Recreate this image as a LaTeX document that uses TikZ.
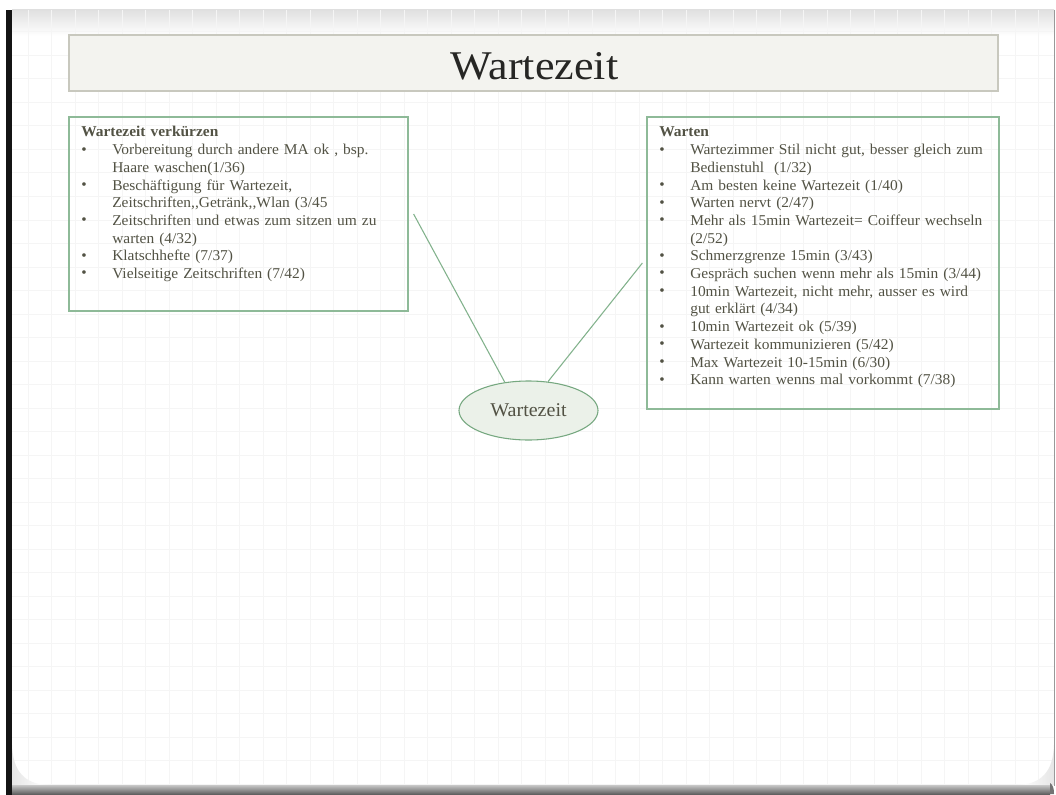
\documentclass[tikz,border=0pt]{standalone}
\usepackage{fontspec}
\setmainfont{Liberation Serif}
\newfontfamily\bodyfont[FakeStretch=1.03]{Liberation Serif}
\newfontfamily\headfont[FakeStretch=1.08]{Liberation Serif}
\usetikzlibrary{shapes.geometric}

\definecolor{txtgray}{RGB}{82,82,68}
\definecolor{titletxt}{RGB}{38,38,36}
\definecolor{boxgreen}{RGB}{142,186,152}
\definecolor{linkgreen}{RGB}{130,178,140}
\definecolor{ellfill}{RGB}{235,241,233}
\definecolor{ellline}{RGB}{118,168,128}
\definecolor{titlefill}{RGB}{243,243,239}
\definecolor{titleline}{RGB}{200,200,190}
\definecolor{gridc}{RGB}{245,245,245}

% bullet with a fixed hanging indent, and the matching plain indent
\newcommand\bul{\makebox[23.25pt][l]{\raisebox{0.5pt}{\textbullet}}}
\newcommand\ind{\hspace*{23.25pt}}

\begin{document}
\begin{tikzpicture}[x=0.75pt,y=-0.75pt,
  gridline/.style={draw=gridc, line width=0.75pt},
  titlebox/.style={draw=titleline, fill=titlefill, line width=0.9pt,
    minimum width=696.75pt, minimum height=42pt, inner sep=0pt},
  titletext/.style={font=\headfont\fontsize{30.6pt}{36pt}\selectfont,
    text=titletxt, inner sep=0pt},
  notebox/.style={draw=boxgreen, line width=0.9pt, inner sep=0pt},
  notetext/.style={font=\bodyfont\fontsize{11.25pt}{13.275pt}\selectfont,
    text=txtgray, align=left, text width=260pt, inner sep=0pt},
  hubnode/.style={ellipse, draw=ellline, fill=ellfill, line width=0.8pt,
    minimum width=104.25pt, minimum height=44.25pt, inner sep=0pt,
    font=\bodyfont\fontsize{14.6pt}{17pt}\selectfont, text=txtgray},
  link/.style={draw=linkgreen, line width=0.8pt}]

\useasboundingbox (0,0) rectangle (1056,795);
\fill[white] (0,0) rectangle (1056,795);

% slide shadows and frame
\shade[top color=black!12, bottom color=white] (12,10) rectangle (1054,36);
\foreach \gx in {28,51.5,...,1052} \draw[gridline] (\gx,10) -- (\gx,785);
\foreach \gy in {32,55.5,...,784} \draw[gridline] (12,\gy) -- (1054,\gy);
\shade[left color=black!10, right color=white]
  (12,745) .. controls (13,772) and (25,784) .. (48,785) -- (12,785) -- cycle;
\shade[left color=white, right color=black!10]
  (1054,745) .. controls (1053,772) and (1041,784) .. (1018,785) -- (1054,785) -- cycle;
\shade[top color=black!22, bottom color=black!62] (12,785) rectangle (1050,794);
\fill[black!55] (1050,783) .. controls (1053,785) and (1054,788) .. (1054,794) -- (1050,794) -- cycle;
\draw[black!40, line width=0.75pt] (1054.5,10) -- (1054.5,786);
\fill[black!92] (6,10) rectangle (12,795);

% title bar
\node[titlebox] (titlebar) at (533.5,63) {};
\node[titletext, anchor=base] (titlelabel) at (534.5,79.3) {Wartezeit};

% note boxes
\node[notebox, minimum width=254.25pt, minimum height=145.5pt] (lbox) at (238.5,214) {};
\node[notebox, minimum width=264pt, minimum height=219pt] (rbox) at (823,263) {};

\node[notetext, anchor=base west] (ltext) at (81,137) {%
  \textbf{Wartezeit verkürzen}\\
  \bul Vorbereitung durch andere MA ok , bsp.\\
  \ind Haare waschen(1/36)\\
  \bul Beschäftigung für Wartezeit,\\
  \ind Zeitschriften,{},Getränk,{},Wlan (3/45\\
  \bul Zeitschriften und etwas zum sitzen um zu\\
  \ind warten (4/32)\\
  \bul Klatschhefte (7/37)\\
  \bul Vielseitige Zeitschriften (7/42)};

\node[notetext, anchor=base west] (rtext) at (659,137) {%
  \textbf{Warten}\\
  \bul Wartezimmer Stil nicht gut, besser gleich zum\\
  \ind Bedienstuhl\ \ (1/32)\\
  \bul Am besten keine Wartezeit (1/40)\\
  \bul Warten nervt (2/47)\\
  \bul Mehr als 15min Wartezeit= Coiffeur wechseln\\
  \ind (2/52)\\
  \bul Schmerzgrenze 15min (3/43)\\
  \bul Gespräch suchen wenn mehr als 15min (3/44)\\
  \bul 10min Wartezeit, nicht mehr, ausser es wird\\
  \ind gut erklärt (4/34)\\
  \bul 10min Wartezeit ok (5/39)\\
  \bul Wartezeit kommunizieren (5/42)\\
  \bul Max Wartezeit 10-15min (6/30)\\
  \bul Kann warten wenns mal vorkommt (7/38)};

% central topic and its links
\node[hubnode] (hub) at (528.5,410.5) {Wartezeit};
\draw[link] ([xshift=3.75pt]lbox.east) -- (hub.130.5);
\draw[link] ([xshift=-3pt]rbox.west) -- (hub.56.5);

\end{tikzpicture}
\end{document}
